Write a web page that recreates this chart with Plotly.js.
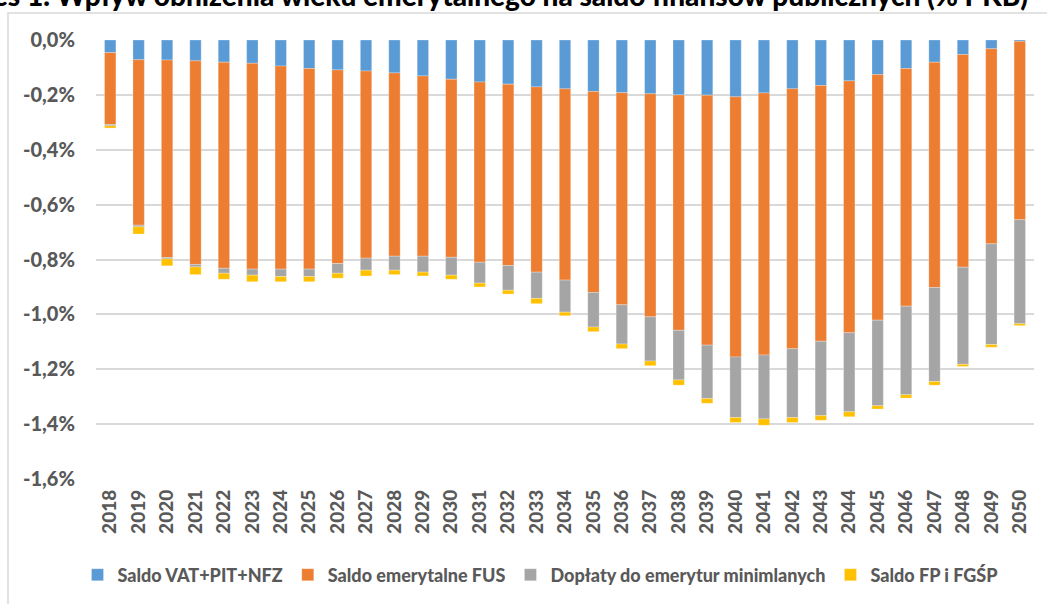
<!DOCTYPE html>
<html>
<head>
<meta charset="utf-8">
<script src="https://cdn.plot.ly/plotly-3.0.1.min.js"></script>
<style>
html,body{margin:0;padding:0;background:#fff;}
#chart{width:1047px;height:604px;}
</style>
</head>
<body>
<div id="chart"></div>
<script>
const years = ['2018','2019','2020','2021','2022','2023','2024','2025','2026','2027','2028','2029','2030','2031','2032','2033','2034','2035','2036','2037','2038','2039','2040','2041','2042','2043','2044','2045','2046','2047','2048','2049','2050'];

const seriesNames = ['Saldo VAT+PIT+NFZ','Saldo emerytalne FUS','Dopłaty do emerytur minimlanych','Saldo FP i FGŚP'];

const saldoVat = [-0.046,-0.072,-0.073,-0.076,-0.081,-0.085,-0.095,-0.104,-0.109,-0.113,-0.120,-0.131,-0.143,-0.153,-0.161,-0.171,-0.178,-0.188,-0.192,-0.196,-0.200,-0.201,-0.207,-0.193,-0.178,-0.166,-0.149,-0.126,-0.104,-0.081,-0.053,-0.032,-0.005];
const saldoFus = [-0.262,-0.603,-0.720,-0.742,-0.751,-0.750,-0.740,-0.731,-0.706,-0.682,-0.668,-0.657,-0.649,-0.657,-0.661,-0.675,-0.697,-0.732,-0.773,-0.813,-0.858,-0.911,-0.948,-0.955,-0.947,-0.932,-0.918,-0.895,-0.866,-0.821,-0.775,-0.711,-0.650];
const doplaty = [-0.005,-0.006,-0.005,-0.009,-0.018,-0.022,-0.027,-0.027,-0.035,-0.044,-0.051,-0.058,-0.065,-0.076,-0.090,-0.096,-0.117,-0.126,-0.143,-0.161,-0.181,-0.195,-0.221,-0.233,-0.251,-0.271,-0.288,-0.312,-0.323,-0.343,-0.354,-0.367,-0.379];
const saldoFp = [-0.008,-0.026,-0.025,-0.028,-0.022,-0.024,-0.019,-0.019,-0.018,-0.021,-0.016,-0.014,-0.015,-0.014,-0.014,-0.019,-0.013,-0.017,-0.017,-0.017,-0.019,-0.017,-0.018,-0.023,-0.018,-0.017,-0.018,-0.012,-0.012,-0.013,-0.008,-0.010,-0.007];

const yTickVals = [0,-0.2,-0.4,-0.6,-0.8,-1.0,-1.2,-1.4,-1.6];
const yTickText = ['0,0%','-0,2%','-0,4%','-0,6%','-0,8%','-1,0%','-1,2%','-1,4%','-1,6%'];

const colors = ['#5B9BD5','#ED7D31','#A5A5A5','#FFC000'];
const values = [saldoVat, saldoFus, doplaty, saldoFp];

const FONT = 'Lato, "Open Sans", sans-serif';
const GREY = '#595959';

const traces = values.map((v,i)=>({
  type:'bar',
  x: years,
  y: v,
  name: seriesNames[i],
  marker:{color:colors[i], line:{color:'rgba(255,255,255,0.5)', width:0.5}},
  hoverinfo:'x+y+name'
}));

const W = 1047, H = 604;
const mL = 96, mR = 13, mT = 40, mB = 124;
const pw = W - mL - mR, ph = H - mT - mB;
const px = v => (v - mL) / pw;
const py = v => (H - mB - v) / ph;

const layout = {
  width: W, height: H,
  margin:{l:mL, r:mR, t:mT, b:mB, pad:0},
  paper_bgcolor:'#fff',
  plot_bgcolor:'#fff',
  barmode:'relative',
  bargap:0.6,
  showlegend:true,
  title:{
    text:'Wykres 1. Wpływ obniżenia wieku emerytalnego na saldo finansów publicznych (% PKB)',
    font:{family:FONT, size:28, color:'#000', weight:900},
    x: px(1028), xref:'paper', xanchor:'right',
    y: 1, yref:'paper', yanchor:'bottom',
    pad:{b:34}
  },
  font:{family:FONT, color:GREY},
  xaxis:{
    type:'category',
    tickangle:-90,
    showgrid:false,
    zeroline:false,
    showline:false,
    ticks:'',
    ticklabelstandoff:6,
    tickfont:{family:FONT, size:19, color:GREY, weight:900},
    automargin:false
  },
  yaxis:{
    range:[-1.6, 0],
    tickvals: yTickVals,
    ticktext: yTickText,
    showgrid:true,
    gridcolor:'#D9D9D9',
    gridwidth:2,
    zeroline:false,
    showline:false,
    ticks:'',
    ticklabelstandoff:20,
    tickfont:{family:FONT, size:20, color:GREY, weight:900},
    automargin:false
  },
  legend:{
    orientation:'h',
    x: px(540), xanchor:'center',
    y: py(575), yanchor:'middle',
    font:{family:FONT, size:18, color:GREY, weight:900},
    itemwidth:30,
    traceorder:'normal',
    bgcolor:'rgba(0,0,0,0)'
  },
  shapes:[{
    type:'rect', xref:'paper', yref:'paper',
    x0: px(8), x1: px(1060), y0: py(620), y1: py(13),
    line:{color:'#D9D9D9', width:1.5}, fillcolor:'rgba(0,0,0,0)', layer:'below'
  }]
};

Plotly.newPlot('chart', traces, layout, {displayModeBar:false, staticPlot:true});
</script>
</body>
</html>
